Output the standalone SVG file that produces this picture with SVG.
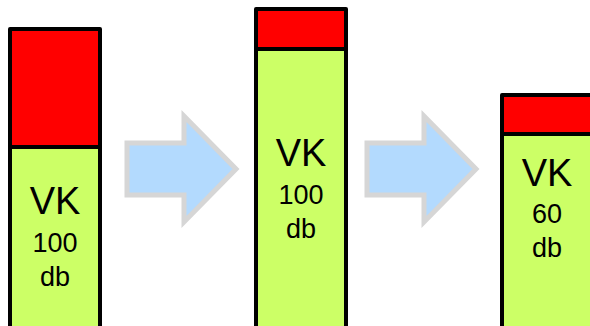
<svg xmlns="http://www.w3.org/2000/svg" width="590" height="326" viewBox="0 0 590 326">
<style>
.box{stroke:#000;stroke-width:4;stroke-linejoin:round}
.red{fill:#ff0000}
.grn{fill:#ccff66}
.arr{fill:#b3dafe;stroke:#d6d6d6;stroke-width:5;stroke-linejoin:miter}
text{font-family:"Liberation Sans",Arial,sans-serif;text-anchor:middle;fill:#000}
.big{font-size:38px}
.small{font-size:27px}
</style>
<rect width="590" height="326" fill="#fff"/>
<g id="connectors">
<polygon class="arr" points="127,143 184,143 184,116 236,169 184,222 184,195 127,195"/>
<polygon class="arr" transform="translate(240,0)" points="127,143 184,143 184,116 236,169 184,222 184,195 127,195"/>
</g>
<g id="node1">
<rect class="box red" x="10" y="29" width="90" height="118"/>
<rect class="box grn" x="10" y="147" width="90" height="190"/>
<text class="big" x="55" y="214">VK</text>
<text class="small" x="55" y="251.5">100</text>
<text class="small" x="55" y="285.5">db</text>
</g>
<g id="node2">
<rect class="box red" x="256" y="9" width="90" height="40"/>
<rect class="box grn" x="256" y="49" width="90" height="290"/>
<text class="big" x="301" y="166">VK</text>
<text class="small" x="301" y="203.5">100</text>
<text class="small" x="301" y="237.5">db</text>
</g>
<g id="node3">
<rect class="box red" x="502" y="95" width="90" height="39"/>
<rect class="box grn" x="502" y="134" width="90" height="205"/>
<text class="big" x="547" y="186">VK</text>
<text class="small" x="547" y="222.5">60</text>
<text class="small" x="547" y="256.5">db</text>
</g>
</svg>
